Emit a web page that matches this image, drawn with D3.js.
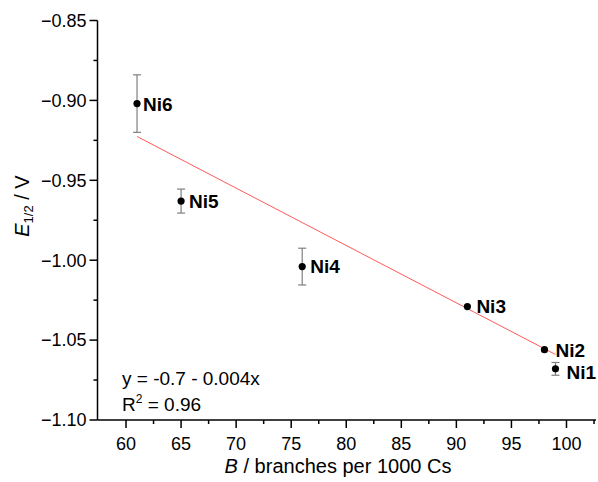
<!DOCTYPE html>
<html>
<head>
<meta charset="utf-8">
<script src="https://cdn.jsdelivr.net/npm/d3@7"></script>
<style>
  body { margin: 0; background: #fff; }
  svg text { font-family: "Liberation Sans", Arial, sans-serif; }
</style>
</head>
<body>
<div id="chart"></div>
<script>
// data
const samples = ['Ni1', 'Ni2', 'Ni3', 'Ni4', 'Ni5', 'Ni6'];
const branches = [99, 98, 91, 76, 65, 61];
const halfWave = [-1.068, -1.056, -1.029, -1.004, -0.963, -0.902];
const errors = [0.004, 0, 0, 0.0115, 0.0075, 0.018];

// linear fit drawn between these two ends
const fitX = [61, 99];
const fitY = [-0.9226, -1.059];

const xTicks = [60, 65, 70, 75, 80, 85, 90, 95, 100];
const yTicks = [-0.85, -0.90, -0.95, -1.00, -1.05, -1.10];

// label nudges in px (dx, dy)
const labelNudge = { Ni1: [11, 3], Ni2: [11, 0], Ni3: [9, 0], Ni4: [8, 0], Ni5: [8, 0], Ni6: [6, 1] };

const W = 598, H = 482;
const svg = d3.select('#chart').append('svg')
    .attr('width', W)
    .attr('height', H);

const x = d3.scaleLinear().domain([57.41, 102.68]).range([97.5, 596]);
const y = d3.scaleLinear().domain([-1.10, -0.85]).range([420, 20.5]);

const fmtMinus = s => s.replace('-', '\u2212');

// minor ticks
const xMinor = d3.range(62.5, 102.6, 5);
const yMinor = d3.range(-1.075, -0.86, 0.05);

const xAxis = svg.append('g').attr('transform', 'translate(0,420)');
xAxis.append('line').attr('x1', 97.5).attr('x2', 596).attr('stroke', '#000').attr('stroke-width', 1.5);
xAxis.selectAll('.maj').data(xTicks).enter().append('line')
    .attr('x1', d => x(d)).attr('x2', d => x(d)).attr('y1', 0).attr('y2', 8)
    .attr('stroke', '#000').attr('stroke-width', 1.5);
xAxis.selectAll('.min').data(xMinor).enter().append('line')
    .attr('x1', d => x(d)).attr('x2', d => x(d)).attr('y1', 0).attr('y2', 4)
    .attr('stroke', '#000').attr('stroke-width', 1.5);
xAxis.selectAll('.lab').data(xTicks).enter().append('text')
    .attr('x', d => x(d)).attr('y', 30)
    .attr('text-anchor', 'middle')
    .style('font-size', '18px')
    .text(d => d);

const yAxis = svg.append('g').attr('transform', 'translate(97.5,0)');
yAxis.append('line').attr('y1', 20.5).attr('y2', 420).attr('stroke', '#000').attr('stroke-width', 1.5);
yAxis.selectAll('.maj').data(yTicks).enter().append('line')
    .attr('y1', d => y(d)).attr('y2', d => y(d)).attr('x1', 0).attr('x2', -8)
    .attr('stroke', '#000').attr('stroke-width', 1.5);
yAxis.selectAll('.min').data(yMinor).enter().append('line')
    .attr('y1', d => y(d)).attr('y2', d => y(d)).attr('x1', 0).attr('x2', -4)
    .attr('stroke', '#000').attr('stroke-width', 1.5);
yAxis.selectAll('.lab').data(yTicks).enter().append('text')
    .attr('x', -11).attr('y', d => y(d))
    .attr('dy', '0.35em')
    .attr('text-anchor', 'end')
    .style('font-size', '18px')
    .text(d => fmtMinus(d3.format('.2f')(d)));

// axis titles
const yTitle = svg.append('text')
    .attr('transform', 'translate(29,206) rotate(-90)')
    .attr('text-anchor', 'middle')
    .style('font-size', '20px');
yTitle.append('tspan').style('font-style', 'italic').text('E');
yTitle.append('tspan').attr('dy', 4).style('font-size', '13px').text('1/2');
yTitle.append('tspan').attr('dy', -4).text(' / V');

const xTitle = svg.append('text')
    .attr('x', 338).attr('y', 473)
    .attr('text-anchor', 'middle')
    .style('font-size', '20px');
xTitle.append('tspan').style('font-style', 'italic').text('B');
xTitle.append('tspan').text(' / branches per 1000 Cs');

// fit line
svg.append('line')
    .attr('x1', x(fitX[0])).attr('y1', y(fitY[0]))
    .attr('x2', x(fitX[1])).attr('y2', y(fitY[1]))
    .attr('stroke', '#ff5a5a').attr('stroke-width', 1);

const pts = samples.map((s, i) => ({ name: s, b: branches[i], e: halfWave[i], err: errors[i] }));

// error bars
const eb = svg.selectAll('.err').data(pts.filter(d => d.err > 0)).enter().append('g')
    .attr('stroke', '#7f7f7f').attr('stroke-width', 1.2);
eb.append('line')
    .attr('x1', d => x(d.b)).attr('x2', d => x(d.b))
    .attr('y1', d => y(d.e + d.err)).attr('y2', d => y(d.e - d.err));
eb.append('line')
    .attr('x1', d => x(d.b) - 4).attr('x2', d => x(d.b) + 4)
    .attr('y1', d => y(d.e + d.err)).attr('y2', d => y(d.e + d.err));
eb.append('line')
    .attr('x1', d => x(d.b) - 4).attr('x2', d => x(d.b) + 4)
    .attr('y1', d => y(d.e - d.err)).attr('y2', d => y(d.e - d.err));

svg.selectAll('.dot').data(pts).enter().append('circle')
    .attr('cx', d => x(d.b)).attr('cy', d => y(d.e))
    .attr('r', 3.6).attr('fill', '#000');

svg.selectAll('.lbl').data(pts).enter().append('text')
    .attr('x', d => x(d.b) + labelNudge[d.name][0])
    .attr('y', d => y(d.e) + labelNudge[d.name][1])
    .attr('dy', '0.36em')
    .style('font-size', '19px')
    .style('font-weight', 'bold')
    .text(d => d.name);

// fit annotation
svg.append('text')
    .attr('x', 122).attr('y', 385)
    .style('font-size', '19px')
    .text('y = -0.7 - 0.004x');
const r2 = svg.append('text')
    .attr('x', 122).attr('y', 411)
    .style('font-size', '19px');
r2.append('tspan').text('R');
r2.append('tspan').attr('dy', -8).style('font-size', '12px').text('2');
r2.append('tspan').attr('dy', 8).text(' = 0.96');
</script>
</body>
</html>
